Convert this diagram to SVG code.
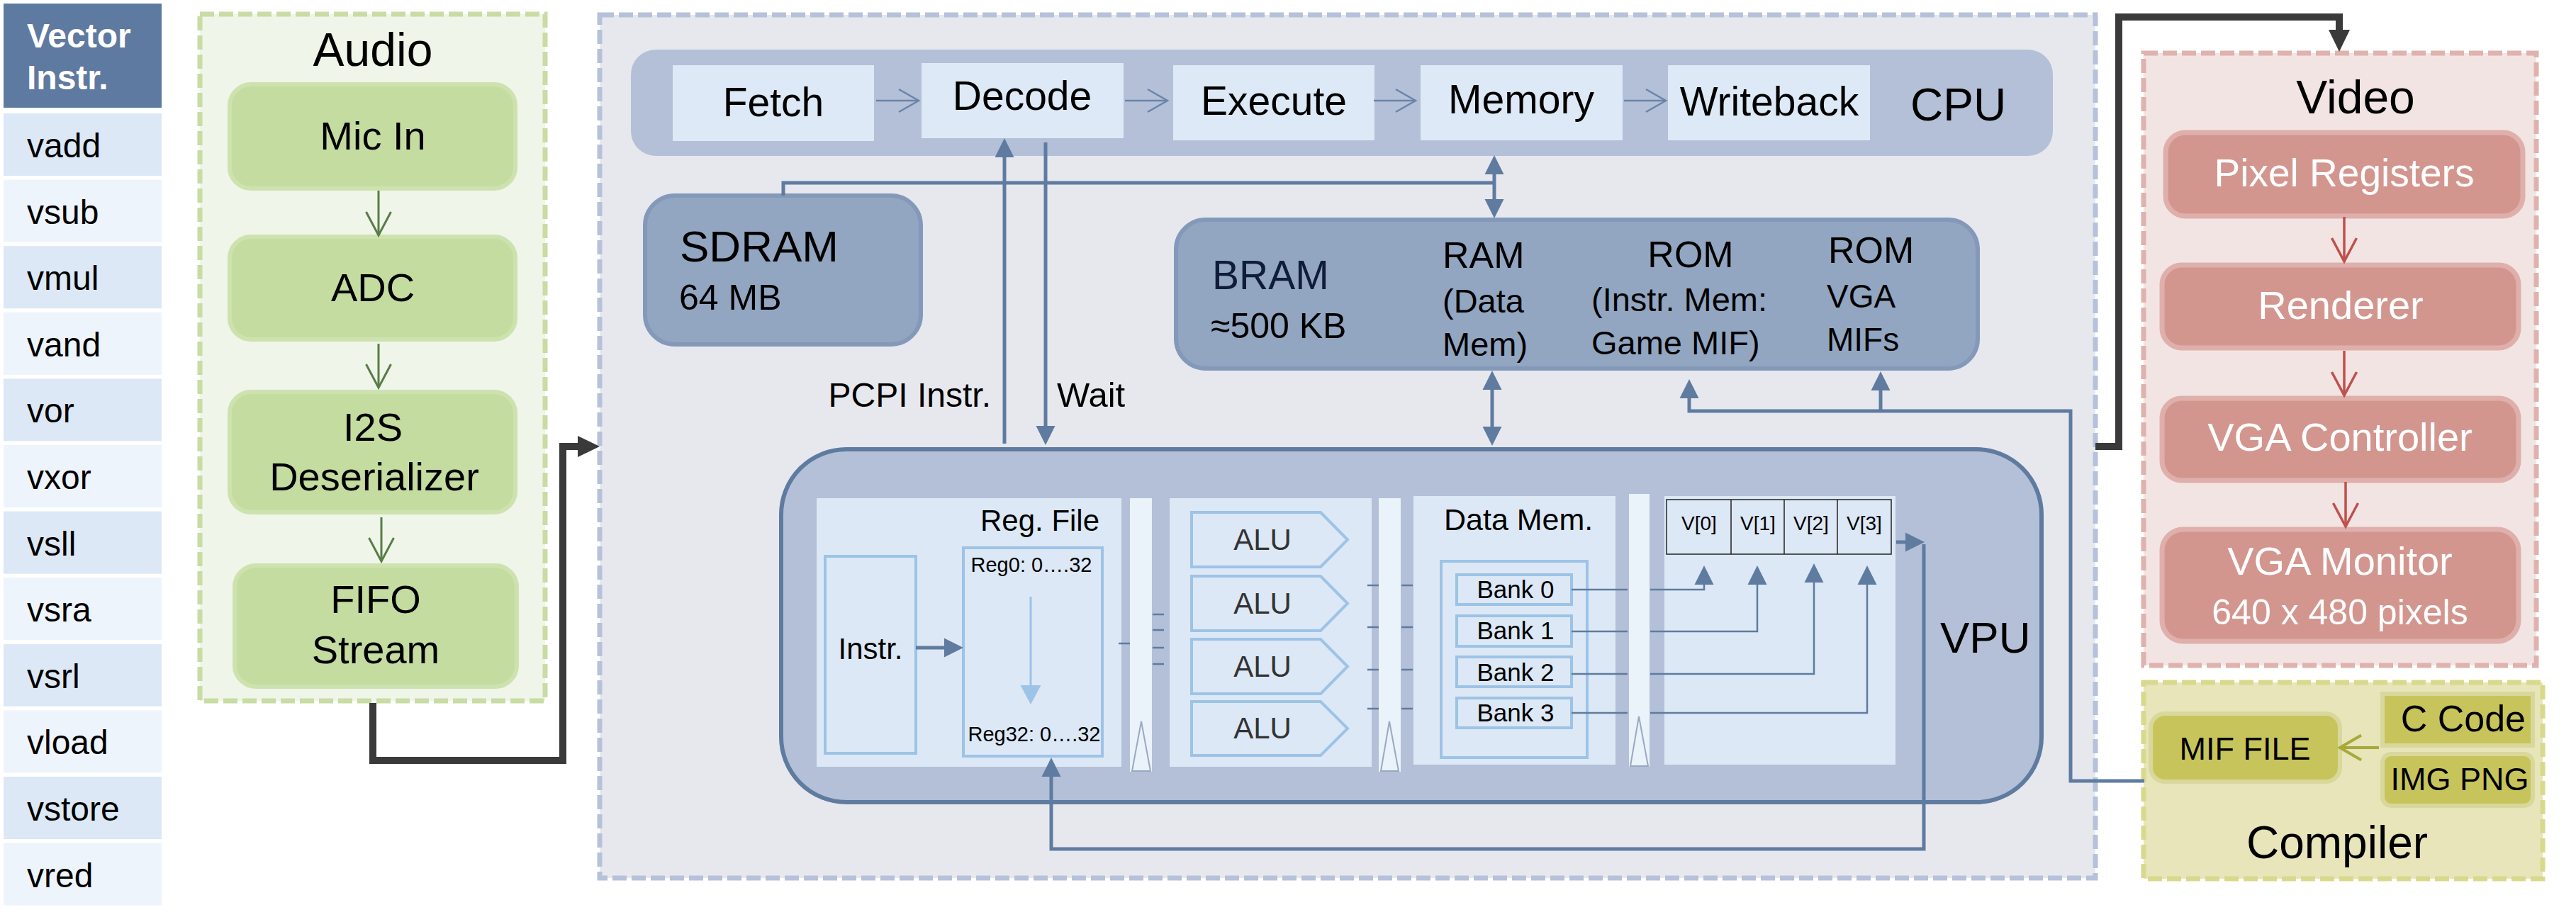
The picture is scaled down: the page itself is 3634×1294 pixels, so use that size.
<svg xmlns="http://www.w3.org/2000/svg" width="3634" height="1294" viewBox="0 0 3634 1294">
<style>
text{font-family:"Liberation Sans",Arial,sans-serif;fill:#000}
.hdr{font-size:48px;font-weight:bold;fill:#fff}
.vi{font-size:48px}
.rowD{fill:#dce8f5}
.rowL{fill:#eef4fb}
.grpA{fill:#eff5e8;stroke:#c8dca4;stroke-width:7;stroke-dasharray:20 7}
.nA{fill:#c5dca1;stroke:#cee2b0;stroke-width:6}
.tA{font-size:56px;text-anchor:middle}
.grpC{fill:#e7e8ee;stroke:#b6c2da;stroke-width:7;stroke-dasharray:20 7}
.bar{fill:#b3c0d7}
.stg{fill:#dde9f6}
.tS{font-size:57px;text-anchor:middle}
.mem{fill:#92a6c1;stroke:#8499b9;stroke-width:6}
.pan{fill:#dce8f5}
.pipe{fill:#eaf2fa}
.tri{fill:#eaf2fa;stroke:#9aa9c2;stroke-width:2}
.lb{fill:none;stroke:#9dc3e6;stroke-width:4}
.alu{font-size:42px;text-anchor:middle;fill:#333}
.bk{font-size:35px;text-anchor:middle}
.vr{font-size:28px;text-anchor:middle}
.grpV{fill:#f2e4e3;stroke:#dfb2ae;stroke-width:7;stroke-dasharray:20 7}
.nV{fill:#d3968f;stroke:#dfb0ab;stroke-width:7}
.tV{font-size:56px;text-anchor:middle;fill:#fff}
.grpP{fill:#e7e5b9;stroke:#d9d98e;stroke-width:7;stroke-dasharray:20 7}
.nP{fill:#c8c45c;stroke:#d9d89c;stroke-width:6}
.blue{fill:none;stroke:#5f7ba0;stroke-width:5}
.thin{fill:none;stroke:#5f7ba0;stroke-width:2.5}
.dark{fill:none;stroke:#3a3a3a;stroke-width:10}
.sa{fill:none;stroke:#6a84aa;stroke-width:2.5}
</style>
<defs>
<marker id="mDark" markerUnits="userSpaceOnUse" markerWidth="32" markerHeight="32" refX="1" refY="15" orient="auto" overflow="visible"><path d="M0,0 L31,15 L0,30 z" fill="#3a3a3a"/></marker>
<marker id="mBlue" markerUnits="userSpaceOnUse" markerWidth="28" markerHeight="28" refX="1" refY="13.5" orient="auto-start-reverse" overflow="visible"><path d="M0,0 L27,13.5 L0,27 z" fill="#5f7ba0"/></marker>
<marker id="mLight" markerUnits="userSpaceOnUse" markerWidth="28" markerHeight="30" refX="1" refY="14.5" orient="auto" overflow="visible"><path d="M0,0 L27,14.5 L0,29 z" fill="#9dc3e6"/></marker>
<marker id="mGreen" markerUnits="userSpaceOnUse" markerWidth="36" markerHeight="36" refX="33" refY="17.5" orient="auto" overflow="visible"><path d="M0,0 L33,17.5 L0,35" fill="none" stroke="#5a7c48" stroke-width="3"/></marker>
<marker id="mRed" markerUnits="userSpaceOnUse" markerWidth="36" markerHeight="36" refX="33" refY="17.5" orient="auto" overflow="visible"><path d="M0,0 L33,17.5 L0,35" fill="none" stroke="#c0504d" stroke-width="3.5"/></marker>
<marker id="mOlive" markerUnits="userSpaceOnUse" markerWidth="36" markerHeight="36" refX="30" refY="17.5" orient="auto" overflow="visible"><path d="M0,0 L30,17.5 L0,35" fill="none" stroke="#a9a83a" stroke-width="4"/></marker>
<marker id="mStage" markerUnits="userSpaceOnUse" markerWidth="30" markerHeight="34" refX="28" refY="16" orient="auto" overflow="visible"><path d="M0,0 L28,16 L0,32" fill="none" stroke="#6a84aa" stroke-width="2.5"/></marker>
</defs>
<rect width="3634" height="1294" fill="#fff"/>

<g id="vector-instr">
<rect x="5" y="5" width="223" height="147" fill="#5f7aa0"/>
<text class="hdr" x="38" y="67">Vector</text>
<text class="hdr" x="38" y="126">Instr.</text>
<rect class="rowD" x="5" y="160" width="223" height="88"/><text class="vi" x="38" y="222">vadd</text>
<rect class="rowL" x="5" y="253.6" width="223" height="88"/><text class="vi" x="38" y="315.6">vsub</text>
<rect class="rowD" x="5" y="347.2" width="223" height="88"/><text class="vi" x="38" y="409.2">vmul</text>
<rect class="rowL" x="5" y="440.8" width="223" height="88"/><text class="vi" x="38" y="502.8">vand</text>
<rect class="rowD" x="5" y="534.4" width="223" height="88"/><text class="vi" x="38" y="596.4">vor</text>
<rect class="rowL" x="5" y="628" width="223" height="88"/><text class="vi" x="38" y="690">vxor</text>
<rect class="rowD" x="5" y="721.6" width="223" height="88"/><text class="vi" x="38" y="783.6">vsll</text>
<rect class="rowL" x="5" y="815.2" width="223" height="88"/><text class="vi" x="38" y="877.2">vsra</text>
<rect class="rowD" x="5" y="908.8" width="223" height="88"/><text class="vi" x="38" y="970.8">vsrl</text>
<rect class="rowL" x="5" y="1002.4" width="223" height="88"/><text class="vi" x="38" y="1064.4">vload</text>
<rect class="rowD" x="5" y="1096" width="223" height="88"/><text class="vi" x="38" y="1158">vstore</text>
<rect class="rowL" x="5" y="1189.6" width="223" height="88"/><text class="vi" x="38" y="1251.6">vred</text>
</g>

<g id="audio">
<rect class="grpA" x="282" y="20" width="487" height="969"/>
<text x="526" y="93" style="font-size:66px;text-anchor:middle">Audio</text>
<g id="mic-in"><rect class="nA" x="324" y="119" width="403" height="147" rx="30"/><text class="tA" x="526" y="211">Mic In</text></g>
<g id="adc"><rect class="nA" x="324" y="334" width="403" height="145" rx="30"/><text class="tA" x="526" y="425">ADC</text></g>
<g id="i2s"><rect class="nA" x="324" y="553" width="403" height="170" rx="30"/><text class="tA" x="526" y="622">I2S</text><text class="tA" x="528" y="692">Deserializer</text></g>
<g id="fifo"><rect class="nA" x="331" y="798" width="398" height="171" rx="30"/><text class="tA" x="530" y="865">FIFO</text><text class="tA" x="530" y="936">Stream</text></g>
</g>

<g id="cpu-region">
<rect class="grpC" x="846" y="21" width="2110" height="1218"/>
</g>

<g id="cpu">
<rect class="bar" x="890" y="70" width="2006" height="150" rx="35"/>
<g id="fetch"><rect class="stg" x="949" y="92" width="284" height="107"/><text class="tS" x="1091" y="164">Fetch</text></g>
<g id="decode"><rect class="stg" x="1300" y="89" width="285" height="106"/><text class="tS" x="1442" y="155">Decode</text></g>
<g id="execute"><rect class="stg" x="1655" y="92" width="284" height="106"/><text class="tS" x="1797" y="162">Execute</text></g>
<g id="memory"><rect class="stg" x="2004" y="92" width="285" height="106"/><text class="tS" x="2146" y="160">Memory</text></g>
<g id="writeback"><rect class="stg" x="2353" y="92" width="285" height="106"/><text class="tS" x="2496" y="163">Writeback</text></g>
<text x="2695" y="170" style="font-size:64px">CPU</text>
</g>

<g id="sdram">
<rect class="mem" x="910" y="276" width="389" height="210" rx="42"/>
<text x="959" y="369" style="font-size:62px">SDRAM</text>
<text x="958" y="437" style="font-size:50px">64 MB</text>
</g>

<g id="bram">
<rect class="mem" x="1659" y="310" width="1131" height="210" rx="42"/>
<text x="1710" y="408" style="font-size:57px;fill:#0f1c3a">BRAM</text>
<text x="1708" y="477" style="font-size:50px">≈500 KB</text>
<text x="2035" y="378" style="font-size:52px">RAM</text>
<text x="2035" y="441" style="font-size:47px">(Data</text>
<text x="2035" y="502" style="font-size:47px">Mem)</text>
<text x="2385" y="377" style="font-size:52px;text-anchor:middle">ROM</text>
<text x="2245" y="439" style="font-size:47px">(Instr. Mem:</text>
<text x="2245" y="500" style="font-size:47px">Game MIF)</text>
<text x="2579" y="371" style="font-size:52px">ROM</text>
<text x="2577" y="434" style="font-size:46px">VGA</text>
<text x="2577" y="495" style="font-size:46px">MIFs</text>
</g>

<g id="vpu">
<rect x="1102" y="634" width="1778" height="498" rx="92" fill="#b3c0d7" stroke="#5f7ba0" stroke-width="6"/>
<text x="2737" y="921" style="font-size:62px">VPU</text>
<rect class="pan" x="1152" y="703" width="430" height="379"/>
<rect class="pipe" x="1594" y="703" width="31" height="386"/>
<path class="tri" d="M1597,1088 L1610,1018 L1623,1088 z"/>
<rect class="pan" x="1650" y="703" width="285" height="379"/>
<rect class="pipe" x="1945" y="703" width="31" height="386"/>
<path class="tri" d="M1948,1088 L1960,1018 L1973,1088 z"/>
<rect class="pan" x="1994" y="700" width="285" height="379"/>
<rect class="pipe" x="2298" y="697" width="29" height="385"/>
<path class="tri" d="M2300,1081 L2312,1011 L2325,1081 z"/>
<rect class="pan" x="2348" y="700" width="326" height="379"/>
<g id="instr"><rect class="lb" x="1164" y="785" width="128" height="278" stroke-width="3"/><text x="1228" y="930" style="font-size:42px;text-anchor:middle">Instr.</text></g>
<g id="regfile">
<text x="1383" y="749" style="font-size:42px">Reg. File</text>
<rect class="lb" x="1359" y="773" width="196" height="294" stroke-width="3"/>
<text x="1455" y="807" style="font-size:29px;text-anchor:middle">Reg0: 0….32</text>
<text x="1459" y="1046" style="font-size:29px;text-anchor:middle">Reg32: 0….32</text>
<path d="M1454,842 V968" stroke="#9dc3e6" stroke-width="3" fill="none" marker-end="url(#mLight)"/>
</g>
<g id="alus">
<path class="lb" d="M1681,723 H1863 L1901,761.5 L1863,800 H1681 z"/><text class="alu" x="1781" y="776">ALU</text>
<path class="lb" d="M1681,813 H1863 L1901,851.5 L1863,890 H1681 z"/><text class="alu" x="1781" y="866">ALU</text>
<path class="lb" d="M1681,902 H1863 L1901,940.5 L1863,979 H1681 z"/><text class="alu" x="1781" y="955">ALU</text>
<path class="lb" d="M1681,990 H1863 L1901,1028 L1863,1066 H1681 z"/><text class="alu" x="1781" y="1042">ALU</text>
</g>
<g id="datamem">
<text x="2037" y="748" style="font-size:43px">Data Mem.</text>
<rect class="lb" x="2033" y="792" width="206" height="277" stroke-width="3"/>
<rect class="lb" x="2055" y="811" width="162" height="42"/><text class="bk" x="2138" y="844">Bank 0</text>
<rect class="lb" x="2055" y="869" width="162" height="43"/><text class="bk" x="2138" y="902">Bank 1</text>
<rect class="lb" x="2055" y="927" width="162" height="42"/><text class="bk" x="2138" y="961">Bank 2</text>
<rect class="lb" x="2055" y="985" width="162" height="42"/><text class="bk" x="2138" y="1018">Bank 3</text>
</g>
<g id="vregs">
<rect x="2351" y="705" width="317" height="77" fill="none" stroke="#222" stroke-width="1.5"/>
<path d="M2442,705 V782 M2517,705 V782 M2592,705 V782" stroke="#222" stroke-width="1.5"/>
<text class="vr" x="2397" y="748">V[0]</text>
<text class="vr" x="2480" y="748">V[1]</text>
<text class="vr" x="2555" y="748">V[2]</text>
<text class="vr" x="2630" y="748">V[3]</text>
</g>
</g>

<g id="video">
<rect class="grpV" x="3024" y="75" width="554" height="864"/>
<text x="3323" y="160" style="font-size:66px;text-anchor:middle">Video</text>
<g id="pixel-registers"><rect class="nV" x="3055" y="187" width="504" height="118" rx="28"/><text class="tV" x="3307" y="263" style="font-size:55px">Pixel Registers</text></g>
<g id="renderer"><rect class="nV" x="3050" y="374" width="503" height="117" rx="28"/><text class="tV" x="3302" y="450">Renderer</text></g>
<g id="vga-controller"><rect class="nV" x="3050" y="562" width="503" height="116" rx="28"/><text class="tV" x="3301" y="636">VGA Controller</text></g>
<g id="vga-monitor"><rect class="nV" x="3050" y="747" width="503" height="158" rx="30"/><text class="tV" x="3301" y="811">VGA Monitor</text><text class="tV" x="3301" y="881" style="font-size:50px">640 x 480 pixels</text></g>
</g>

<g id="compiler">
<rect class="grpP" x="3024" y="963" width="563" height="277"/>
<g id="mif-file"><rect class="nP" x="3034" y="1007" width="267" height="96" rx="20"/><text x="3167" y="1072" style="font-size:45px;text-anchor:middle">MIF FILE</text></g>
<g id="c-code"><rect class="nP" x="3361" y="979" width="212" height="73"/><text x="3563" y="1032" style="font-size:52px;text-anchor:end">C Code</text></g>
<g id="img-png"><rect class="nP" x="3361" y="1064" width="212" height="73" rx="12"/><text x="3470" y="1115" style="font-size:45px;text-anchor:middle">IMG PNG</text></g>
<text x="3297" y="1211" style="font-size:64px;text-anchor:middle">Compiler</text>
</g>

<g id="connectors">
<path d="M534,269 V332" stroke="#5a7c48" stroke-width="3" fill="none" marker-end="url(#mGreen)"/>
<path d="M534,485 V547" stroke="#5a7c48" stroke-width="3" fill="none" marker-end="url(#mGreen)"/>
<path d="M538,730 V792" stroke="#5a7c48" stroke-width="3" fill="none" marker-end="url(#mGreen)"/>
<path class="dark" d="M526,992 V1073 H794 V630 H816" marker-end="url(#mDark)"/>
<path class="dark" d="M2956,630 H2989 V24 H3300 V43" marker-end="url(#mDark)"/>
<path class="sa" d="M1236,142 H1296" marker-end="url(#mStage)"/>
<path class="sa" d="M1587,142 H1647" marker-end="url(#mStage)"/>
<path class="sa" d="M1938,142 H1997" marker-end="url(#mStage)"/>
<path class="sa" d="M2291,142 H2350" marker-end="url(#mStage)"/>
<path class="blue" d="M1105,276 V258 H2108"/>
<path class="blue" d="M2108,245 V282" marker-start="url(#mBlue)" marker-end="url(#mBlue)"/>
<path class="blue" d="M2105,549 V603" marker-start="url(#mBlue)" marker-end="url(#mBlue)"/>
<path class="blue" d="M1417,626 V221" marker-end="url(#mBlue)"/>
<path class="blue" d="M1475,201 V602" marker-end="url(#mBlue)"/>
<text x="1398" y="574" style="font-size:48px;text-anchor:end">PCPI Instr.</text>
<text x="1491" y="574" style="font-size:49px">Wait</text>
<path class="blue" d="M3025,1102 H2921 V580 H2383 V561" marker-end="url(#mBlue)"/>
<path class="blue" d="M2653,580 V550" marker-end="url(#mBlue)"/>
<path class="blue" d="M1292,914 H1333" marker-end="url(#mBlue)"/>
<path class="thin" d="M1578,908 H1594 M1626,867 H1642 M1626,889 H1642 M1626,914 H1642 M1626,937 H1642"/>
<path class="thin" d="M1929,826 H1945 M1929,885 H1945 M1929,945 H1945 M1929,1000 H1945 M1977,826 H1993 M1977,885 H1993 M1977,945 H1993 M1977,1000 H1993"/>
<path class="thin" d="M2217,832 H2296 M2217,891 H2296 M2217,951 H2296 M2217,1006 H2296"/>
<path class="thin" d="M2328,832 H2404 V824" marker-end="url(#mBlue)"/>
<path class="thin" d="M2328,891 H2479 V824" marker-end="url(#mBlue)"/>
<path class="thin" d="M2328,951 H2559 V821" marker-end="url(#mBlue)"/>
<path class="thin" d="M2328,1006 H2634 V824" marker-end="url(#mBlue)"/>
<path class="blue" d="M2675,765 H2689" stroke-width="7" marker-end="url(#mBlue)"/>
<path class="blue" d="M2714,768 V1198 H1483 V1095" stroke-width="6" marker-end="url(#mBlue)"/>
<path d="M3356,1055 H3301" stroke="#a9a83a" stroke-width="4" fill="none" marker-end="url(#mOlive)"/>
<path d="M3307,306 V369" stroke="#c0504d" stroke-width="3.5" fill="none" marker-end="url(#mRed)"/>
<path d="M3307,495 V558" stroke="#c0504d" stroke-width="3.5" fill="none" marker-end="url(#mRed)"/>
<path d="M3309,680 V743" stroke="#c0504d" stroke-width="3.5" fill="none" marker-end="url(#mRed)"/>
</g>
</svg>
